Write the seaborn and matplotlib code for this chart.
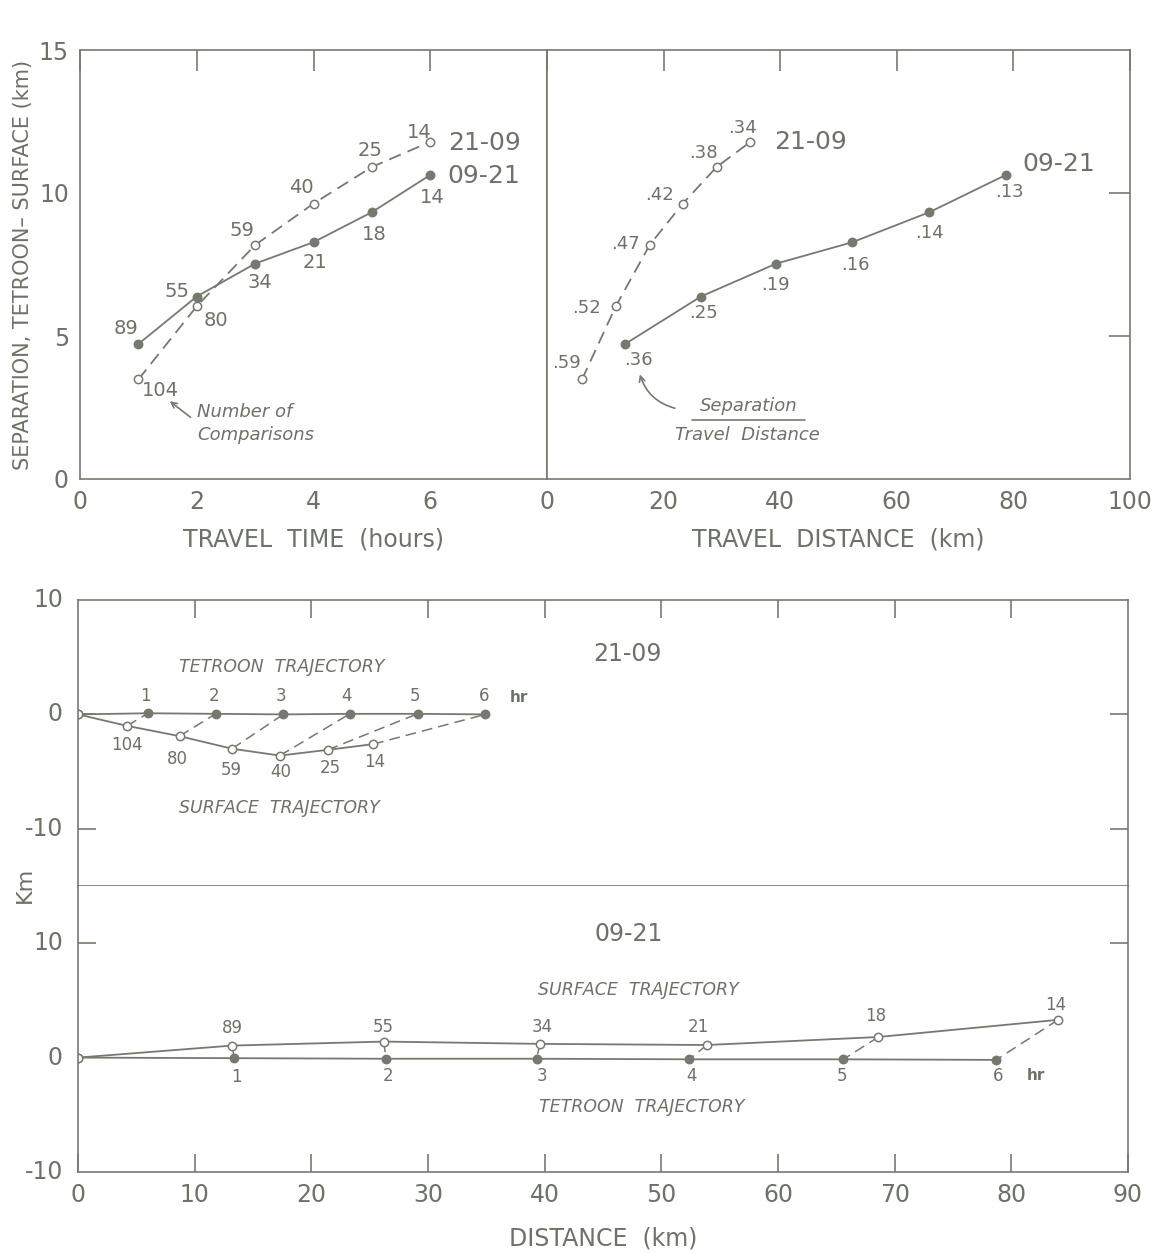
import numpy as np
import pandas as pd
import matplotlib
matplotlib.use("Agg")
import matplotlib.pyplot as plt
import seaborn as sns

# ---------------- data ----------------
hours = [1, 2, 3, 4, 5, 6]
sep_0921 = [4.72, 6.38, 7.53, 8.28, 9.33, 10.63]
sep_2109 = [3.48, 6.04, 8.18, 9.63, 10.91, 11.79]
n_0921 = ["89", "55", "34", "21", "18", "14"]
n_2109 = ["104", "80", "59", "40", "25", "14"]

dist_0921 = [13.4, 26.4, 39.3, 52.4, 65.6, 78.7]
dist_2109 = [6.0, 11.8, 17.6, 23.3, 29.1, 34.9]
ratio_0921 = [".36", ".25", ".19", ".16", ".14", ".13"]
ratio_2109 = [".59", ".52", ".47", ".42", ".38", ".34"]

# trajectories (start at origin)
tet_2109_x = [0] + dist_2109
tet_2109_y = [0, 0.1, 0.05, 0.0, 0.05, 0.05, 0.0]
sur_2109_x = [0, 4.2, 8.7, 13.2, 17.3, 21.4, 25.3]
sur_2109_y = [0, -1.0, -1.9, -3.0, -3.6, -3.1, -2.6]

tet_0921_x = [0] + dist_0921
tet_0921_y = [0, -0.05, -0.1, -0.1, -0.15, -0.15, -0.2]
sur_0921_x = [0, 13.2, 26.2, 39.6, 53.9, 68.6, 84.0]
sur_0921_y = [0, 1.05, 1.4, 1.2, 1.1, 1.8, 3.3]

hr_labels = ["1", "2", "3", "4", "5", "6"]

# ---------------- style ----------------
sns.set_style("white")
plt.rcParams["font.family"] = ["DejaVu Sans"]
C = "#747b6e"
TXT = "#6c7366"
plt.rcParams.update({
    "axes.edgecolor": C, "axes.linewidth": 1.2,
    "axes.labelcolor": TXT,
    "xtick.color": C, "ytick.color": C,
    "xtick.labelcolor": TXT, "ytick.labelcolor": TXT,
    "text.color": TXT,
})

W, H = 1161, 1255
fig = plt.figure(figsize=(W / 100, H / 100), dpi=100)
fig.patch.set_facecolor("white")


def rect(l, t, r, b):
    return [l / W, 1 - b / H, (r - l) / W, (b - t) / H]


ax1 = fig.add_axes(rect(80, 50, 547, 479))
ax2 = fig.add_axes(rect(547, 50, 1130, 479))
ax3 = fig.add_axes(rect(78, 600, 1128, 886))
ax4 = fig.add_axes(rect(78, 886, 1128, 1172))

LW = 1.3
DASH = (7, 4)


def series(ax, x, y, filled, dashed):
    df = pd.DataFrame({"x": x, "y": y})
    kw = dict(color=C, linewidth=LW, marker="o", markersize=6,
              markeredgecolor=C, markeredgewidth=1.1,
              markerfacecolor=C if filled else "white")
    if dashed:
        kw["dashes"] = DASH
    sns.lineplot(data=df, x="x", y="y", ax=ax, sort=False, estimator=None,
                 legend=False, **kw)


# ---------------- top-left ----------------
series(ax1, hours, sep_2109, filled=False, dashed=True)
series(ax1, hours, sep_0921, filled=True, dashed=False)
ax1.set_xlim(0, 8)
ax1.set_ylim(0, 15)
ax1.set_xticks([0, 2, 4, 6])
ax1.set_xticklabels(["0", "2", "4", "6"])
ax1.set_yticks([0, 5, 10, 15])
ax1.set_yticklabels(["0", "5", "10", "15"])
ax1.tick_params(axis="both", direction="in", length=15, width=1.2,
                labelsize=17, top=True, right=False, pad=8)
ax1.set_xlabel("TRAVEL  TIME  (hours)", fontsize=17, labelpad=10)
ax1.set_ylabel("SEPARATION, TETROON\u2013 SURFACE (km)", fontsize=15, labelpad=4)

pos_n0921 = [(0.79, 5.25), (1.67, 6.57), (3.08, 6.88), (4.02, 7.58), (5.04, 8.56), (6.04, 9.84)]
pos_n2109 = [(1.38, 3.09), (2.33, 5.54), (2.78, 8.70), (3.80, 10.19), (4.97, 11.5), (5.81, 12.13)]
for (px, py), s in zip(pos_n0921, n_0921):
    ax1.text(px, py, s, ha="center", va="center", fontsize=14)
for (px, py), s in zip(pos_n2109, n_2109):
    ax1.text(px, py, s, ha="center", va="center", fontsize=14)
ax1.text(6.3, 11.75, "21-09", ha="left", va="center", fontsize=18)
ax1.text(6.3, 10.6, "09-21", ha="left", va="center", fontsize=18)
ax1.text(2.0, 2.35, "Number of", style="italic", fontsize=13, ha="left", va="center")
ax1.text(2.0, 1.55, "Comparisons", style="italic", fontsize=13, ha="left", va="center")
ax1.annotate("", xy=(1.5, 2.78), xytext=(1.93, 2.1),
             arrowprops=dict(arrowstyle="->", color=C, lw=1.2))

# ---------------- top-right ----------------
series(ax2, dist_2109, sep_2109, filled=False, dashed=True)
series(ax2, dist_0921, sep_0921, filled=True, dashed=False)
ax2.set_xlim(0, 100)
ax2.set_ylim(0, 15)
ax2.set_xticks([0, 20, 40, 60, 80, 100])
ax2.set_xticklabels(["0", "20", "40", "60", "80", "100"])
ax2.set_yticks([5, 10])
ax2.tick_params(axis="both", direction="in", length=15, width=1.2,
                labelsize=17, top=True, right=True, left=False,
                labelleft=False, labelright=False, pad=8)
ax2.set_xlabel("TRAVEL  DISTANCE  (km)", fontsize=17, labelpad=10)
ax2.set_ylabel("")

pos_r2109 = [(3.4, 4.06), (6.8, 5.98), (13.5, 8.2), (19.3, 9.94), (26.8, 11.4), (33.5, 12.28)]
pos_r0921 = [(15.6, 4.16), (26.9, 5.82), (39.1, 6.79), (52.9, 7.48), (65.6, 8.59), (79.3, 10.05)]
for (px, py), s in zip(pos_r2109, ratio_2109):
    ax2.text(px, py, s, ha="center", va="center", fontsize=13)
for (px, py), s in zip(pos_r0921, ratio_0921):
    ax2.text(px, py, s, ha="center", va="center", fontsize=13)
ax2.text(39.0, 11.8, "21-09", ha="left", va="center", fontsize=18)
ax2.text(81.5, 11.0, "09-21", ha="left", va="center", fontsize=18)
ax2.text(34.6, 2.55, "Separation", style="italic", fontsize=13, ha="center", va="center")
ax2.plot([24.8, 44.2], [2.08, 2.08], color=C, lw=1.2)
ax2.text(34.3, 1.55, "Travel  Distance", style="italic", fontsize=13, ha="center", va="center")
ax2.annotate("", xy=(15.8, 3.75), xytext=(22.4, 2.45),
             arrowprops=dict(arrowstyle="->", color=C, lw=1.2,
                             connectionstyle="arc3,rad=-0.3"))

# ---------------- bottom: 21-09 ----------------
def connectors(ax, sx, sy, tx, ty):
    rows = []
    for i in range(1, len(sx)):
        rows.append({"pair": i, "x": sx[i], "y": sy[i]})
        rows.append({"pair": i, "x": tx[i], "y": ty[i]})
    df = pd.DataFrame(rows)
    sns.lineplot(data=df, x="x", y="y", units="pair", estimator=None, sort=False,
                 ax=ax, color=C, linewidth=1.1, dashes=DASH, legend=False)


connectors(ax3, sur_2109_x, sur_2109_y, tet_2109_x, tet_2109_y)
series(ax3, tet_2109_x, tet_2109_y, filled=True, dashed=False)
series(ax3, sur_2109_x, sur_2109_y, filled=False, dashed=False)
ax3.set_xlim(0, 90)
ax3.set_ylim(-15, 10)
ax3.set_xticks([10, 20, 30, 40, 50, 60, 70, 80])
ax3.set_yticks([-10, 0])
ax3.tick_params(axis="x", direction="in", length=13, width=1.2, top=True,
                bottom=False, labelbottom=False)
ax3.tick_params(axis="y", direction="in", length=13, width=1.2, right=True,
                left=True, labelleft=False)
for yv, s in [(10, "10"), (0, "0"), (-10, "-10")]:
    ax3.text(-1.3, yv, s, ha="right", va="center", fontsize=17)
ax3.set_xlabel("")
ax3.set_ylabel("")

pos_h2109 = [(5.8, 1.6), (11.7, 1.6), (17.4, 1.6), (23.0, 1.6), (28.9, 1.6), (34.8, 1.6)]
for (px, py), s in zip(pos_h2109, hr_labels):
    ax3.text(px, py, s, ha="center", va="center", fontsize=12)
ax3.text(37.0, 1.5, "hr", ha="left", va="center", fontsize=11, fontweight="bold")
pos_s2109 = [(4.2, -2.7), (8.5, -3.9), (13.1, -4.9), (17.4, -5.0), (21.6, -4.7), (25.4, -4.2)]
for (px, py), s in zip(pos_s2109, n_2109):
    ax3.text(px, py, s, ha="center", va="center", fontsize=12)
ax3.text(17.5, 4.1, "TETROON  TRAJECTORY", style="italic", fontsize=12.5, ha="center", va="center")
ax3.text(17.3, -8.2, "SURFACE  TRAJECTORY", style="italic", fontsize=12.5, ha="center", va="center")
ax3.text(47.1, 5.3, "21-09", fontsize=17, ha="center", va="center")

# ---------------- bottom: 09-21 ----------------
connectors(ax4, sur_0921_x, sur_0921_y, tet_0921_x, tet_0921_y)
series(ax4, tet_0921_x, tet_0921_y, filled=True, dashed=False)
series(ax4, sur_0921_x, sur_0921_y, filled=False, dashed=False)
ax4.set_xlim(0, 90)
ax4.set_ylim(-10, 15)
ax4.set_xticks([0, 10, 20, 30, 40, 50, 60, 70, 80, 90])
ax4.set_xticklabels(["0", "10", "20", "30", "40", "50", "60", "70", "80", "90"])
ax4.set_yticks([10])
ax4.tick_params(axis="x", direction="in", length=13, width=1.2, top=False,
                bottom=True, labelsize=17, pad=8)
ax4.tick_params(axis="y", direction="in", length=13, width=1.2, right=True,
                left=True, labelleft=False)
for yv, s in [(10, "10"), (0, "0"), (-10, "-10")]:
    ax4.text(-1.3, yv, s, ha="right", va="center", fontsize=17)
ax4.spines["top"].set_visible(False)
ax4.set_xlabel("DISTANCE  (km)", fontsize=17, labelpad=14)
ax4.set_ylabel("")

pos_s0921 = [(13.2, 2.6), (26.2, 2.7), (39.8, 2.7), (53.2, 2.7), (68.4, 3.6), (83.8, 4.6)]
for (px, py), s in zip(pos_s0921, n_0921):
    ax4.text(px, py, s, ha="center", va="center", fontsize=12)
pos_h0921 = [(13.6, -1.7), (26.6, -1.6), (39.8, -1.6), (52.6, -1.6), (65.5, -1.6), (78.9, -1.6)]
for (px, py), s in zip(pos_h0921, hr_labels):
    ax4.text(px, py, s, ha="center", va="center", fontsize=12)
ax4.text(81.3, -1.6, "hr", ha="left", va="center", fontsize=11, fontweight="bold")
ax4.text(48.0, 5.9, "SURFACE  TRAJECTORY", style="italic", fontsize=12.5, ha="center", va="center")
ax4.text(48.3, -4.3, "TETROON  TRAJECTORY", style="italic", fontsize=12.5, ha="center", va="center")
ax4.text(47.2, 10.8, "09-21", fontsize=17, ha="center", va="center")

fig.text(25 / W, 1 - 885 / H, "Km", rotation=90, fontsize=16, ha="center", va="center")

fig.savefig("out.png", dpi=100, facecolor="white")
